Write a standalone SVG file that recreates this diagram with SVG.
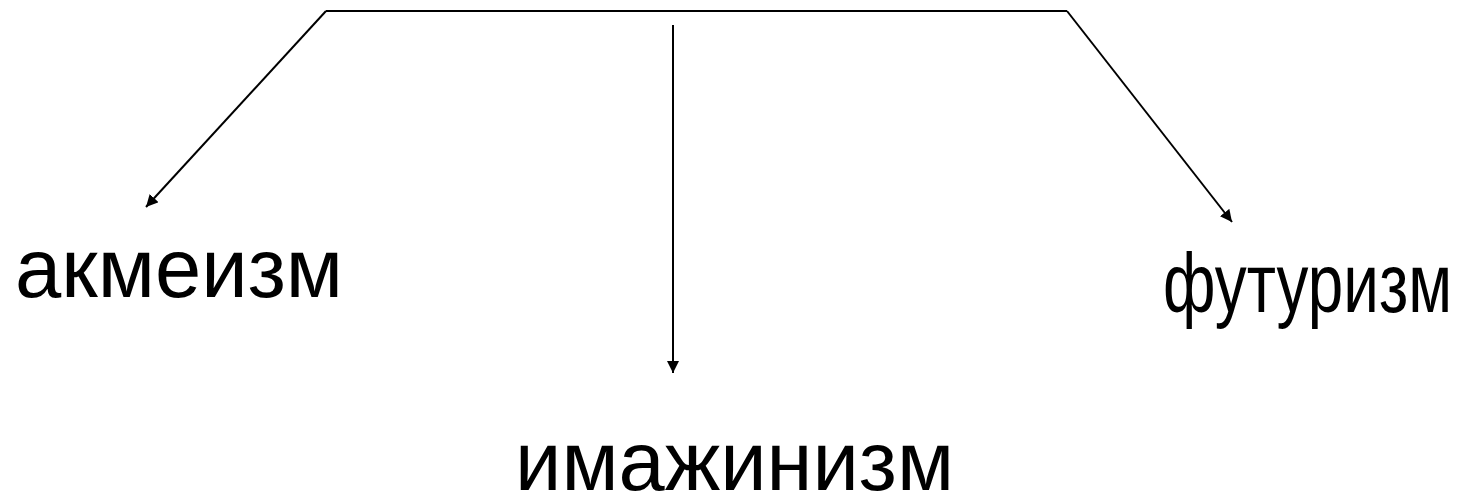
<svg xmlns="http://www.w3.org/2000/svg" width="1465" height="498" viewBox="0 0 1465 498">
<style>
.c{stroke:#000;stroke-width:2;fill:none}
.t{font-family:"Liberation Sans",Arial,sans-serif;font-size:84px;fill:#000}
</style>
<defs>
<marker id="a" viewBox="0 0 10 10" refX="10" refY="5" markerWidth="6" markerHeight="6" orient="auto" markerUnits="strokeWidth">
<path d="M0,0 L10,5 L0,10 z" fill="#000"/>
</marker>
</defs>
<rect width="1465" height="498" fill="#fff"/>
<g id="connectors">
<path class="c" d="M326,11 L1067,11"/>
<path class="c" d="M326,11 L146,207" marker-end="url(#a)"/>
<path class="c" d="M1067,11 L1232,222" marker-end="url(#a)"/>
<path class="c" d="M673,25 L673,373" marker-end="url(#a)"/>
</g>
<g id="akmeizm"><text class="t" x="15" y="297" textLength="328" lengthAdjust="spacingAndGlyphs">акмеизм</text></g>
<g id="imazhinizm"><text class="t" x="515" y="490" textLength="439" lengthAdjust="spacingAndGlyphs">имажинизм</text></g>
<g id="futurizm"><text class="t" x="1163" y="312" textLength="289" lengthAdjust="spacingAndGlyphs">футуризм</text></g>
</svg>
